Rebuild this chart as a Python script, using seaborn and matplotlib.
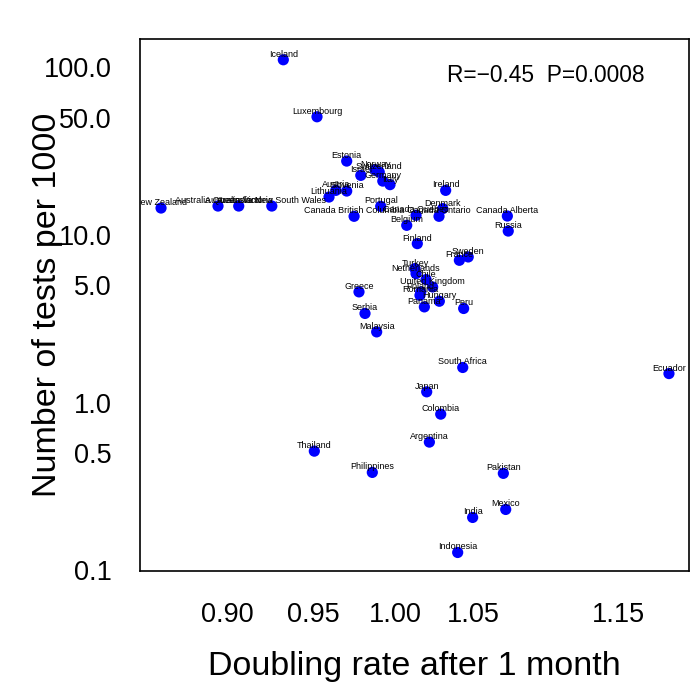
import numpy as np
import pandas as pd
import matplotlib
matplotlib.use('Agg')
import matplotlib.pyplot as plt
import seaborn as sns

# data (log-log scatter)
countries = [
    'Iceland', 'Luxembourg', 'New Zealand', 'Australia Queensland', 'Australia Victoria',
    'Australia New South Wales', 'Lithuania', 'Austria', 'Slovenia', 'Estonia',
    'Israel', 'Norway', 'Switzerland', 'Germany', 'Italy',
    'Portugal', 'Canada British Columbia', 'Ireland', 'Denmark', 'Canada Ontario',
    'Canada Quebec', 'Belgium', 'Finland', 'Canada Alberta', 'Russia',
    'France', 'Sweden', 'Turkey', 'Netherlands', 'Chile',
    'United Kingdom', 'Poland', 'Romania', 'Hungary', 'Panama',
    'Peru', 'Greece', 'Serbia', 'Malaysia', 'South Africa',
    'Japan', 'Colombia', 'Argentina', 'Thailand', 'Philippines',
    'Pakistan', 'Mexico', 'India', 'Indonesia', 'Ecuador',
]
doubling_rate = [
    0.9323, 0.9522, 0.8635, 0.8949, 0.9066,
    0.9256, 0.9594, 0.9635, 0.9701, 0.9701,
    0.9787, 0.9875, 0.9901, 0.9923, 0.9968,
    0.9910, 0.9746, 1.0322, 1.0303, 1.0279,
    1.0132, 1.0073, 1.0140, 1.0729, 1.0735,
    1.0411, 1.0469, 1.0125, 1.0132, 1.0196,
    1.0238, 1.0162, 1.0157, 1.0281, 1.0185,
    1.0439, 0.9776, 0.9813, 0.9885, 1.0433,
    1.0200, 1.0290, 1.0217, 0.9506, 0.9858,
    1.0702, 1.0718, 1.0498, 1.0400, 1.1873,
]
tests_per_1000 = [
    110.4, 50.5, 14.44, 14.84, 14.84,
    14.84, 16.79, 18.40, 18.23, 27.50,
    22.60, 24.44, 23.64, 20.90, 19.90,
    14.78, 12.89, 18.40, 14.32, 12.89,
    13.07, 11.39, 8.86, 12.94, 10.53,
    7.05, 7.38, 6.29, 5.87, 5.41,
    4.89, 4.57, 4.36, 4.02, 3.72,
    3.64, 4.57, 3.40, 2.64, 1.62,
    1.16, 0.854, 0.582, 0.514, 0.384,
    0.379, 0.231, 0.207, 0.128, 1.49,
]
x_ticks = [0.90, 0.95, 1.00, 1.05, 1.10, 1.15, 1.20]
x_ticklabels = ['0.90', '0.95', '1.00', '1.05', '', '1.15', '']
y_ticks = [0.1, 0.5, 1.0, 5.0, 10.0, 50.0, 100.0]
y_ticklabels = ['0.1', '0.5', '1.0', '5.0', '10.0', '50.0', '100.0']

df = pd.DataFrame({'country': countries, 'rate': doubling_rate, 'tests': tests_per_1000})

sns.set_style('white')
plt.rcParams['font.family'] = ['Liberation Sans', 'DejaVu Sans']

fig = plt.figure(figsize=(6.97, 6.83), dpi=100)
ax = fig.add_axes([0.2009, 0.164, 0.7876, 0.7789])

sns.scatterplot(data=df, x='rate', y='tests', ax=ax, color='#0000ff',
                s=65, linewidth=0, edgecolor='none', zorder=3)

ax.set_xscale('log')
ax.set_yscale('log')
ax.set_xlim(0.8522, 1.2023)
ax.set_ylim(0.0993, 146.8)

ax.xaxis.set_minor_locator(matplotlib.ticker.NullLocator())
ax.yaxis.set_minor_locator(matplotlib.ticker.NullLocator())
ax.set_xticks(x_ticks)
ax.set_xticklabels(x_ticklabels)
ax.set_yticks(y_ticks)
ax.set_yticklabels(y_ticklabels)
ax.tick_params(axis='both', direction='out', length=8.5, width=1.0,
               labelsize=19.5, color='black', labelcolor='black')
ax.tick_params(axis='y', pad=12)
ax.tick_params(axis='x', pad=14)

for sp in ax.spines.values():
    sp.set_color('black')
    sp.set_linewidth(1.2)

# country labels above points, clipped to plot region like R
for _, row in df.iterrows():
    ax.annotate(row['country'], (row['rate'], row['tests']), xytext=(0, 4),
                textcoords='offset points', ha='center', va='center',
                fontsize=6.5, color='black', clip_on=True, zorder=4)

ax.text(0.559, 0.932, 'R=\u22120.45  P=0.0008', transform=ax.transAxes,
        fontsize=16.4, ha='left', va='center', color='black')

ax.set_xlabel('Doubling rate after 1 month', fontsize=24.5, color='black')
ax.set_ylabel('Number of tests per 1000', fontsize=24.5, color='black')
ax.xaxis.set_label_coords(0.5, -0.150)
ax.yaxis.set_label_coords(-0.141, 0.5)

fig.savefig('out.png', dpi=100)
